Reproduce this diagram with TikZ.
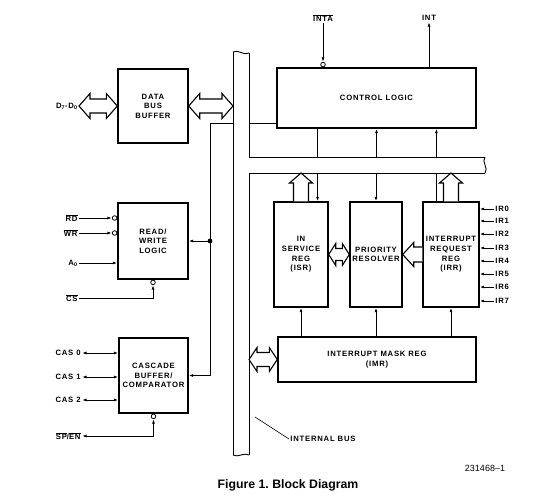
\documentclass[tikz,border=0pt]{standalone}
\usepackage{fontspec}
\setmainfont{Liberation Sans}
\newfontfamily\lblfont[LetterSpace=10]{Liberation Sans}
\usetikzlibrary{arrows.meta,calc}
\newcommand\lblf{\lblfont\bfseries\fontsize{7.7}{9.6}\selectfont}
\newcommand\ovl[1]{$\overline{\hbox{#1}}$}
% horizontal double hollow arrow: #1 left, #2 right, #3 head length, #4 shaft half, #5 head half
\newcommand\hdbl[5]{\draw[harrow] let \p1=#1, \p2=#2 in
 (\x1,\y1) -- (\x1+#3,\y1+#5) -- (\x1+#3,\y1+#4) -- (\x2-#3,\y1+#4) -- (\x2-#3,\y1+#5)
 -- (\x2,\y1) -- (\x2-#3,\y1-#5) -- (\x2-#3,\y1-#4) -- (\x1+#3,\y1-#4) -- (\x1+#3,\y1-#5) -- cycle;}
% left pointing hollow arrow: #1 tip, #2 tail
\newcommand\hleft[5]{\draw[harrow] let \p1=#1, \p2=#2 in
 (\x2,\y1+#4) -- (\x1+#3,\y1+#4) -- (\x1+#3,\y1+#5) -- (\x1,\y1) -- (\x1+#3,\y1-#5) -- (\x1+#3,\y1-#4) -- (\x2,\y1-#4);}
% up pointing hollow arrow: #1 tip, #2 tail
\newcommand\vup[5]{\draw[harrow] let \p1=#1, \p2=#2 in
 (\x1+#4,\y2) -- (\x1+#4,\y1-#3) -- (\x1+#5,\y1-#3) -- (\x1,\y1) -- (\x1-#5,\y1-#3) -- (\x1-#4,\y1-#3) -- (\x1-#4,\y2);}
\begin{document}
\begin{tikzpicture}[x=1pt,y=-1pt,line width=0.9pt,
  box/.style={draw,line width=1.4pt,inner sep=0pt,font=\lblf,align=center},
  sig/.style={font=\lblf,inner sep=1pt},
  arr/.style={-{Latex[length=4.5pt,width=3pt]}},
  barr/.style={{Latex[length=4.5pt,width=3pt]}-{Latex[length=4.5pt,width=3pt]}},
  bub/.style={circle,draw,line width=0.8pt,minimum size=4.6pt,inner sep=0pt,fill=white},
  harrow/.style={draw,line width=1.1pt,line join=miter,fill=white}]
\useasboundingbox (0,0) rectangle (535,500);

% internal bus
\coordinate (bTL) at (233,52);
\coordinate (bTR) at (249,53);
\coordinate (bBL) at (233,455);
\coordinate (bBR) at (249,455);
\coordinate (hT) at (249,157);
\coordinate (hB) at (249,173);
\coordinate (hTE) at (485,157);
\coordinate (hBE) at (485,173);
\draw (bTL) -- (bBL);
\draw (bTR) -- (hT) -- (hTE);
\draw (bBR) -- (hB) -- (hBE);
\draw (bTL) .. controls (238,49) and (244,56) .. (bTR);
\draw (hTE) .. controls (481,162) and (489,168) .. (hBE);
\draw (bBL) .. controls (238,458) and (244,452) .. (bBR);

% boxes
\node[box,minimum width=70pt,minimum height=74pt] (dbb) at (153,106) {DATA\\BUS\\BUFFER};
\node[box,minimum width=70pt,minimum height=76pt] (rw) at (153,241) {READ/\\WRITE\\LOGIC};
\node[box,minimum width=69pt,minimum height=75pt] (cas) at (153.5,375.5) {CASCADE\\BUFFER/\\COMPARATOR};
\node[box,minimum width=199pt,minimum height=60pt] (ctl) at (376.5,98) {CONTROL LOGIC};
\node[box,minimum width=54pt,minimum height=105pt] (isr) at (301,254.5) {IN\\SERVICE\\REG\\(ISR)};
\node[box,minimum width=52pt,minimum height=105pt] (pr) at (376,254.5) {PRIORITY\\RESOLVER};
\node[box,minimum width=56pt,minimum height=105pt] (irr) at (451,254.5) {INTERRUPT\\REQUEST\\REG\\(IRR)};
\node[box,minimum width=198pt,minimum height=45pt] (imr) at (377,359.5) {INTERRUPT MASK REG\\(IMR)};

% top signals
\node[sig] (inta) at (323,18) {\ovl{INTA}};
\node[sig] (int) at (429,18) {INT};
\node[bub,anchor=south] (intab) at (ctl.north -| inta) {};
\draw[arr] (inta.south) -- (intab.north);
\draw[arr] (ctl.north -| int) -- (int.south);

% control logic / bus connections
\coordinate (cx) at ($(ctl.south west)+(0,-5)$);
\coordinate (vl) at (210,0);
\draw (cx) -- (cx -| bTR);
\draw[arr] (cx -| bTL) -- (cx -| vl) -- (vl |- cas.east) -- (cas.east);
\fill (vl |- rw.east) circle (2.4);
\draw[arr] (vl |- rw.east) -- (rw.east);

\coordinate (c1) at ($(ctl.south west)!0.206!(ctl.south east)$);
\coordinate (c2) at (ctl.south);
\coordinate (c3) at ($(ctl.south west)!0.799!(ctl.south east)$);
\draw (c1) -- (c1 |- hT);
\draw[arr] (c2 |- hT) -- (c2);
\draw[arr] (c3 |- hT) -- (c3);
\draw[arr] (c1 |- hB) -- (c1 |- isr.north);
\draw[arr] (pr.north |- hB) -- (pr.north);
\draw (c3 |- hB) -- (c3 |- irr.north);

% IMR to registers
\draw[arr] (imr.north -| isr.south) -- (isr.south);
\draw[arr] (imr.north -| pr.south) -- (pr.south);
\draw[arr] (imr.north -| irr.south) -- (irr.south);

% hollow arrows
\node[sig,anchor=east] (d70) at (79,106) {D\textsubscript{7}-D\textsubscript{0}};
\hdbl{(d70.east)}{(dbb.west)}{11pt}{7pt}{12.5pt}
\hdbl{(dbb.east)}{(dbb.east -| bTL)}{11pt}{7pt}{12.5pt}
\hdbl{(isr.east)}{(pr.west)}{7pt}{6pt}{11pt}
\hleft{(pr.east)}{(irr.west)}{11pt}{7.5pt}{12pt}
\hdbl{(imr.west -| bBR)}{(imr.west)}{8pt}{7pt}{12pt}
\vup{(isr.north |- hB)}{(isr.north)}{10pt}{7.5pt}{11.5pt}
\vup{(irr.north |- hB)}{(irr.north)}{10pt}{7.5pt}{11.5pt}

% read/write inputs
\node[sig,anchor=east] (rd) at (79,218) {\ovl{RD}};
\node[sig,anchor=east] (wr) at (79,233) {\ovl{WR}};
\node[sig,anchor=east] (a0) at (79,263) {A\textsubscript{0}};
\node[sig,anchor=east] (cs) at (79,298) {\ovl{CS}};
\node[bub,anchor=east] (rdb) at (rw.west |- rd) {};
\node[bub,anchor=east] (wrb) at (rw.west |- wr) {};
\node[bub,anchor=north] (csb) at (rw.south) {};
\draw[arr] (rd.east) -- (rdb.west);
\draw[arr] (wr.east) -- (wrb.west);
\draw[arr] (a0.east) -- (a0 -| rw.west);
\draw[arr] (cs.east) -| (csb.south);

% cascade
\node[sig,anchor=east] (cas0) at (82,353) {CAS 0};
\node[sig,anchor=east] (cas1) at (82,377) {CAS 1};
\node[sig,anchor=east] (cas2) at (82,400) {CAS 2};
\node[sig,anchor=east] (spen) at (82,436) {\ovl{SP}/\ovl{EN}};
\node[bub,anchor=north] (speb) at (cas.south) {};
\draw[barr] (cas0.east) -- (cas0 -| cas.west);
\draw[barr] (cas1.east) -- (cas1 -| cas.west);
\draw[barr] (cas2.east) -- (cas2 -| cas.west);
\draw[barr] (spen.east) -| (speb.south);

% IR inputs
\foreach \i/\yy in {0/209,1/221,2/234,3/248,4/261,5/274,6/287,7/301}{
  \node[sig,anchor=west] (ir\i) at (494,\yy) {IR\i};
  \draw[arr] (ir\i.west) -- (ir\i -| irr.east);
}

% internal bus label
\node[sig,anchor=west] (ib) at (289,439) {INTERNAL BUS};
\coordinate (ibp) at (255,417);
\draw[line width=0.6pt] (ibp) -- (ib.west);

% footer
\node[font=\fontsize{9}{10}\selectfont] (fid) at (485,468) {231468–1};
\node[font=\bfseries\fontsize{12.3}{14}\selectfont] (cap) at (288,485) {Figure 1.\ Block Diagram};
\end{tikzpicture}
\end{document}
